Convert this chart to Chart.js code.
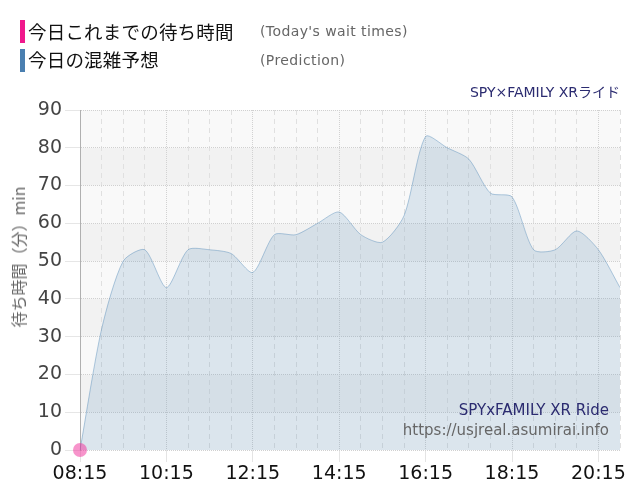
<!DOCTYPE html>
<html><head><meta charset="utf-8">
<script src="https://cdn.jsdelivr.net/npm/chart.js@4"></script>
<style>
html,body{margin:0;padding:0;background:#fff;}
#wrap{position:relative;width:640px;height:500px;overflow:hidden;}
canvas{position:absolute;left:0;top:0;}
.lg{position:absolute;left:20px;height:23px;width:5px;}
.lt{position:absolute;left:28px;font-family:"Noto Sans CJK JP",sans-serif;font-size:18.5px;color:#111;line-height:24px;white-space:nowrap;letter-spacing:0.2px}
.le{position:absolute;left:260px;font-family:"DejaVu Sans",sans-serif;font-size:14px;letter-spacing:0.4px;color:#666;line-height:24px;white-space:nowrap}
.tr{position:absolute;right:20px;font-family:"DejaVu Sans","Noto Sans CJK JP",sans-serif;white-space:nowrap;}
#ytitle{position:absolute;left:18px;top:257px;transform:translate(-50%,-50%) rotate(-90deg);font-family:"Noto Sans CJK JP","DejaVu Sans",sans-serif;font-size:16px;color:#666;white-space:nowrap;}
</style></head>
<body><div id="wrap">
<canvas id="c" width="640" height="500"></canvas>
<div class="lg" style="top:20px;background:#f0188c"></div>
<div class="lt" style="top:19px">今日これまでの待ち時間</div>
<div class="le" style="top:19px">(Today's wait times)</div>
<div class="lg" style="top:49px;background:#4a7fb0"></div>
<div class="lt" style="top:47px">今日の混雑予想</div>
<div class="le" style="top:48px">(Prediction)</div>
<div class="tr" style="top:81px;font-size:14px;color:#2b2b70">SPY×FAMILY XRライド</div>
<div class="tr" style="top:401px;right:31px;font-size:15px;color:#2b2b70">SPYxFAMILY XR Ride</div>
<div class="tr" style="top:421px;right:31px;font-size:15px;color:#666">https://usjreal.asumirai.info</div>
<div id="ytitle">待ち時間（分）min</div>
</div>
<script>
const times = ["08:15","08:45","09:15","09:45","10:15","10:45","11:15","11:45","12:15","12:45","13:15","13:45","14:15","14:45","15:15","15:45","16:15","16:45","17:15","17:45","18:15","18:45","19:15","19:45","20:15","20:45"];
const prediction = [0,32,50,53,43,53,53,52,47,57,57,60,63,57,55,62,83,80,77,68,67,53,53,58,53,43];
const todayWait = [0,null,null,null,null,null,null,null,null,null,null,null,null,null,null,null,null,null,null,null,null,null,null,null,null,null];
const yTicks = [0,10,20,30,40,50,60,70,80,90];

const bands = {
  id:'bands',
  beforeDraw(chart){
    const {ctx, chartArea:a, scales:{y}} = chart;
    ctx.save();
    for(let i=0;i<yTicks.length-1;i++){
      const t = y.getPixelForValue(yTicks[i+1]), b = y.getPixelForValue(yTicks[i]);
      ctx.fillStyle = (i%2===1) ? '#f2f2f2' : '#f9f9f9';
      ctx.fillRect(a.left, t, a.right-a.left, b-t);
    }
    ctx.restore();
  }
};

new Chart(document.getElementById('c'), {
  type:'line',
  data:{
    labels: times,
    datasets:[
      {label:'today', data: todayWait, borderColor:'rgba(240,60,160,0.55)', backgroundColor:'rgba(240,60,160,0.55)', pointRadius:7, pointHoverRadius:7, pointBorderWidth:0, showLine:false, clip:false, order:0},
      {label:'pred', data: prediction, borderColor:'rgba(70,130,180,0.4)', borderWidth:1, backgroundColor:'rgba(70,130,180,0.17)', fill:'origin', pointRadius:0, tension:0.25, order:1}
    ]
  },
  options:{
    responsive:false, animation:false, devicePixelRatio:1,
    layout:{padding:{top:110,right:20,bottom:0,left:0}},
    plugins:{legend:{display:false}, tooltip:{enabled:false}},
    scales:{
      x:{
        type:'category',
        afterFit(s){ s.height = 50; },
        grid:{
          color:(c)=> c.index%4===0 ? '#d2d2d2' : '#e0e0e0',
          tickColor:(c)=> c.index%4===0 ? '#e4e4e4' : 'rgba(0,0,0,0)',
          tickLength:12, lineWidth:1
        },
        border:{display:false, dash:(c)=> (c.index!==undefined && c.index%4===0) ? [1,1] : [5,4]},
        ticks:{autoSkip:false, maxRotation:0, minRotation:0, padding:1, color:'#111',
          font:{family:'"DejaVu Sans"', size:19},
          callback:(v,i)=> i%4===0 ? times[i] : ''}
      },
      y:{
        min:0, max:90,
        afterFit(s){ s.width = 80; },
        grid:{color:'#d0d0d0', tickColor:'#e6e6e6', tickLength:15, lineWidth:1},
        border:{display:true, color:'#b0b0b0', width:1, dash:[1,1]},
        ticks:{stepSize:10, padding:3, color:'#444', font:{family:'"DejaVu Sans"', size:19}}
      }
    }
  },
  plugins:[bands]
});
</script>
</body></html>
